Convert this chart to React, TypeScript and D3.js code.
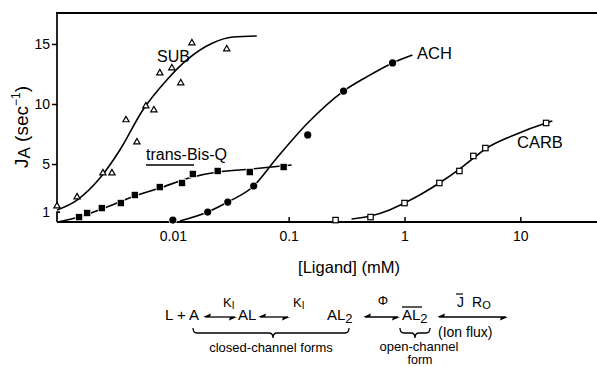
import { useEffect, useRef } from 'react'
import * as d3 from 'd3'

// SUB (open triangles)
const subX = [0.001, 0.00149, 0.00249, 0.00298, 0.00394, 0.0049, 0.00585, 0.00686, 0.00772, 0.0098, 0.0117, 0.0146, 0.0292]
const subY = [1.5, 2.25, 4.25, 4.25, 8.67, 6.83, 9.83, 9.5, 12.58, 13.0, 11.75, 15.08, 14.58]
const subFitX = [0.001, 0.00149, 0.00235, 0.00349, 0.00551, 0.00887, 0.0132, 0.0221, 0.0329, 0.053]
const subFitY = [1.17, 2.0, 3.83, 6.17, 9.5, 12.0, 13.67, 15.08, 15.58, 15.67]

// trans-Bis-Q (filled squares)
const bisX = [0.00155, 0.00182, 0.00244, 0.00356, 0.0047, 0.00772, 0.012, 0.0149, 0.0244, 0.0462, 0.0905]
const bisY = [0.58, 0.92, 1.33, 1.75, 2.42, 3.08, 3.42, 4.17, 4.42, 4.33, 4.75]
const bisFitX = [0.00102, 0.00155, 0.00244, 0.0047, 0.00772, 0.0149, 0.0244, 0.047, 0.106]
const bisFitY = [0.17, 0.58, 1.25, 2.33, 3.0, 3.92, 4.33, 4.58, 4.92]

// ACH (filled circles)
const achX = [0.01, 0.02, 0.0298, 0.0499, 0.146, 0.298, 0.789]
const achY = [0.33, 1.0, 1.83, 3.17, 7.42, 11.08, 13.42]
const achFitX = [0.0115, 0.02, 0.0298, 0.0499, 0.0789, 0.146, 0.298, 0.47, 0.789, 1.17]
const achFitY = [0.25, 1.0, 1.83, 3.17, 5.5, 8.42, 11.08, 12.25, 13.42, 14.08]

// CARB (open squares)
const carbX = [0.254, 0.509, 1.0, 2.0, 2.98, 3.93, 4.99, 16.7]
const carbY = [0.33, 0.58, 1.75, 3.42, 4.42, 5.67, 6.33, 8.42]
const carbFitX = [0.349, 0.509, 0.743, 1.0, 1.4, 2.0, 2.98, 3.94, 4.99, 8.87, 16.7, 18.9]
const carbFitY = [0.42, 0.67, 1.17, 1.75, 2.5, 3.42, 4.58, 5.5, 6.25, 7.42, 8.42, 8.58]

const xTicks = [0.01, 0.1, 1, 10]
const xTickLabels = ['0.01', '0.1', '1', '10']
const yTicks = [1, 5, 10, 15]

const W = 597
const H = 367
const font = '"Liberation Sans", Arial, sans-serif'

const x = d3.scaleLog().domain([0.001, 45]).range([57, 596])
const y = d3.scaleLinear().domain([0.17, 17.58]).range([222, 13])

const zip = (xs: number[], ys: number[]) => xs.map((v, i) => [v, ys[i]] as [number, number])
const line = d3
  .line<[number, number]>()
  .x((d) => x(d[0]))
  .y((d) => y(d[1]))
  .curve(d3.curveMonotoneX)

const triangle = d3.symbol(d3.symbolTriangle, 17)()

function Arrow({ x0, x1, yy }: { x0: number; x1: number; yy: number }) {
  return (
    <g>
      <line x1={x0 + 2} x2={x1 - 2} y1={yy} y2={yy} stroke="#000" strokeWidth={1.3} />
      <path d={`M${x0},${yy} L${x0 + 8},${yy - 3.4} L${x0 + 7},${yy} Z`} fill="#000" />
      <path d={`M${x1},${yy} L${x1 - 8},${yy + 3.4} L${x1 - 7},${yy} Z`} fill="#000" />
    </g>
  )
}

function brace(x0: number, x1: number, xm: number, y0: number, y1: number) {
  const ym = (y0 + y1) / 2
  const r = 4
  return `M${x0},${y0} Q${x0},${ym} ${x0 + r},${ym} L${xm - r},${ym} Q${xm},${ym} ${xm},${y1} Q${xm},${ym} ${xm + r},${ym} L${x1 - r},${ym} Q${x1},${ym} ${x1},${y0}`
}

export default function App() {
  const xAxisRef = useRef<SVGGElement | null>(null)
  const yAxisRef = useRef<SVGGElement | null>(null)

  useEffect(() => {
    if (!xAxisRef.current || !yAxisRef.current) return
    const xAxis = d3
      .axisBottom(x)
      .tickValues(xTicks)
      .tickSize(-5)
      .tickPadding(9)
      .tickFormat((_, i) => xTickLabels[i])
    const gx = d3.select(xAxisRef.current).call(xAxis)
    gx.select('.domain').remove()
    gx.selectAll('line').attr('stroke-width', 1.5)
    gx.selectAll('text').attr('font-size', 14).attr('font-family', font).attr('fill', '#000')

    const yAxis = d3.axisLeft(y).tickValues(yTicks).tickSize(5).tickPadding(2)
    const gy = d3.select(yAxisRef.current).call(yAxis)
    gy.select('.domain').remove()
    gy.selectAll('.tick')
      .filter((d) => d === 1)
      .select('line')
      .remove()
    gy.selectAll('line').attr('stroke-width', 1.5)
    gy.selectAll('text').attr('font-size', 14).attr('font-family', font).attr('fill', '#000')
  }, [])

  return (
    <div>
      <style>{`body{margin:0;background:#fff}`}</style>
      <svg width={W} height={H} viewBox={`0 0 ${W} ${H}`} style={{ display: 'block' }} fontFamily={font}>
        <rect width={W} height={H} fill="#fff" />

        {/* frame */}
        <line x1={56} x2={W} y1={y(17.58)} y2={y(17.58)} stroke="#000" strokeWidth={2} />
        <line x1={x(0.001)} x2={x(0.001)} y1={y(17.58)} y2={y(1.45)} stroke="#000" strokeWidth={1.7} />
        <path d={`M${x(0.001) + 3},${y(1)} H${x(0.001)} V${y(0.17)}`} fill="none" stroke="#000" strokeWidth={1.7} />
        <line x1={x(0.001)} x2={W} y1={y(0.17)} y2={y(0.17)} stroke="#000" strokeWidth={1.9} />

        <g ref={xAxisRef} transform={`translate(0,${y(0.17)})`} />
        <g ref={yAxisRef} transform={`translate(${x(0.001)},0)`} />

        <text transform="translate(28,127) rotate(-90)" textAnchor="middle" fontSize={19}>
          J<tspan fontSize={17} dy={2}>A</tspan>
          <tspan dy={-2}> (sec</tspan>
          <tspan fontSize={12} dy={-8}>−1</tspan>
          <tspan dy={8}>)</tspan>
        </text>
        <text x={349} y={273} textAnchor="middle" fontSize={16.5}>
          [Ligand] (mM)
        </text>

        {/* fitted curves */}
        <g fill="none" stroke="#000" strokeWidth={1.6}>
          <path d={line(zip(subFitX, subFitY)) ?? ''} />
          <path d={line(zip(bisFitX, bisFitY)) ?? ''} />
          <path d={line(zip(achFitX, achFitY)) ?? ''} />
          <path d={line(zip(carbFitX, carbFitY)) ?? ''} />
        </g>

        {/* markers */}
        {zip(subX, subY).map((d, i) => (
          <path key={`s${i}`} d={triangle ?? ''} transform={`translate(${x(d[0])},${y(d[1])})`} fill="#fff" stroke="#000" strokeWidth={1.2} />
        ))}
        {zip(bisX, bisY).map((d, i) => (
          <rect key={`b${i}`} x={x(d[0]) - 3.2} y={y(d[1]) - 3.2} width={6.4} height={6.4} fill="#000" stroke="#fff" strokeWidth={1.5} paintOrder="stroke" />
        ))}
        {zip(achX, achY).map((d, i) => (
          <circle key={`a${i}`} cx={x(d[0])} cy={y(d[1])} r={3.6} fill="#000" stroke="#fff" strokeWidth={1.5} paintOrder="stroke" />
        ))}
        {zip(carbX, carbY).map((d, i) => (
          <rect key={`c${i}`} x={x(d[0]) - 2.7} y={y(d[1]) - 2.7} width={5.4} height={5.4} fill="#fff" stroke="#000" strokeWidth={1.2} />
        ))}

        {/* series labels */}
        <text x={157} y={62} fontSize={16}>SUB</text>
        <text x={417} y={59} fontSize={16.5}>ACH</text>
        <text x={517} y={148} fontSize={16.5}>CARB</text>
        <text x={146} y={160} fontSize={16}>trans-Bis-Q</text>
        <line x1={146} x2={194} y1={165} y2={165} stroke="#000" strokeWidth={1.5} />

        {/* reaction scheme */}
        <g fontSize={15}>
          <text x={165} y={320}>L + A</text>
          <Arrow x0={203} x1={237} yy={317} />
          <text x={223} y={307} fontSize={13}>K<tspan fontSize={10} dy={2}>I</tspan></text>
          <text x={238} y={320}>AL</text>
          <Arrow x0={258} x1={290} yy={317} />
          <text x={293} y={307} fontSize={13}>K<tspan fontSize={10} dy={2}>I</tspan></text>
          <text x={327} y={320}>AL<tspan fontSize={13} dy={3}>2</tspan></text>
          <Arrow x0={363} x1={400} yy={317} />
          <text x={383} y={305} fontSize={13} textAnchor="middle">Φ</text>
          <text x={402} y={320}>AL<tspan fontSize={13} dy={3}>2</tspan></text>
          <line x1={402} x2={422} y1={307} y2={307} stroke="#000" strokeWidth={1.3} />
          <Arrow x0={437} x1={508} yy={317} />
          <text x={457} y={307} fontSize={14}>J</text>
          <line x1={456} x2={463} y1={294} y2={294} stroke="#000" strokeWidth={1.2} />
          <text x={472} y={307} fontSize={14}>R<tspan fontSize={11} dy={2}>O</tspan></text>
          <text x={438} y={337} fontSize={14}>(Ion flux)</text>
          <path d={brace(193, 349, 273, 328, 338)} fill="none" stroke="#000" strokeWidth={1.3} />
          <text x={271} y={352} fontSize={13} textAnchor="middle">closed-channel forms</text>
          <path d={brace(400, 430, 415, 328, 338)} fill="none" stroke="#000" strokeWidth={1.3} />
          <text x={419} y={351} fontSize={13} textAnchor="middle">open-channel</text>
          <text x={420} y={364} fontSize={12.5} textAnchor="middle">form</text>
        </g>
      </svg>
    </div>
  )
}
